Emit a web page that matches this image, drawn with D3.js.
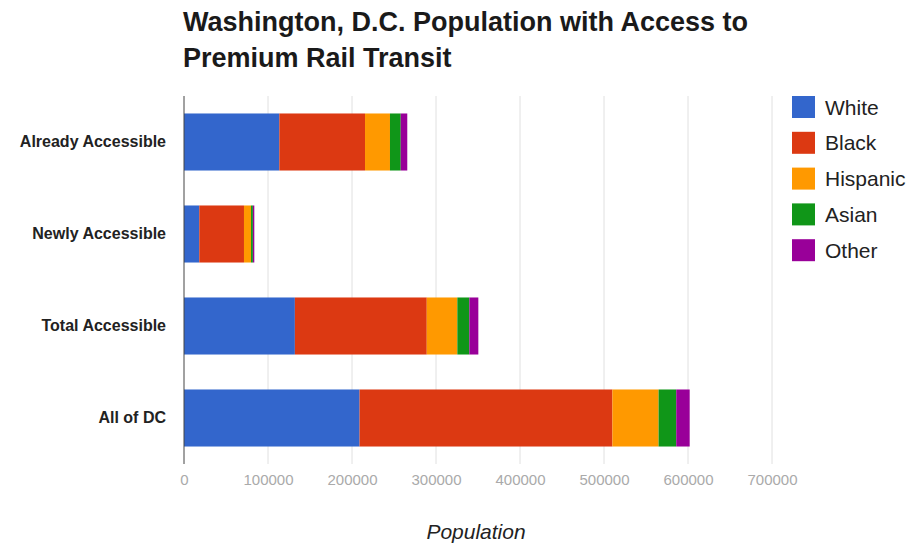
<!DOCTYPE html>
<html>
<head>
<meta charset="utf-8">
<script src="https://cdn.jsdelivr.net/npm/d3@7"></script>
<style>
  html, body { margin: 0; padding: 0; background: #fff; }
  svg { display: block; font-family: "Liberation Sans", Arial, sans-serif; }
</style>
</head>
<body>
<svg id="chart" width="924" height="544"></svg>
<script>
const titleLines = ["Washington, D.C. Population with Access to", "Premium Rail Transit"];
const categories = ["Already Accessible", "Newly Accessible", "Total Accessible", "All of DC"];
const seriesNames = ["White", "Black", "Hispanic", "Asian", "Other"];
const seriesColors = ["#3366cc", "#dc3912", "#ff9900", "#109618", "#990099"];
const white    = [113500, 18200, 132000, 209000];
const black    = [102000, 53200, 157000, 301000];
const hispanic = [29700, 8400, 36400, 55000];
const asian    = [12800, 2200, 14300, 21000];
const other    = [7800, 1700, 10700, 16000];
const xTicks = [0, 100000, 200000, 300000, 400000, 500000, 600000, 700000];
const xTitle = "Population";

const seriesValues = [white, black, hispanic, asian, other];
const rows = categories.map((c, i) => {
  const r = { category: c };
  seriesNames.forEach((s, j) => r[s] = seriesValues[j][i]);
  return r;
});

const svg = d3.select("#chart");
const plotLeft = 184, plotRight = 772, plotTop = 96, plotBottom = 464;

const x = d3.scaleLinear().domain([0, 700000]).range([plotLeft, plotRight]);
const y = d3.scaleBand().domain(categories).range([plotTop, plotBottom])
  .paddingInner(0.38).paddingOuter(0.19);

// Title
svg.append("text")
  .attr("x", 183).attr("y", 31)
  .attr("font-size", 27).attr("font-weight", "bold").attr("fill", "#1a1a1a")
  .selectAll("tspan").data(titleLines).join("tspan")
  .attr("x", 183).attr("dy", (d, i) => i === 0 ? 0 : 36)
  .text(d => d);

// Gridlines
svg.append("g").selectAll("line").data(xTicks.slice(1)).join("line")
  .attr("x1", d => x(d)).attr("x2", d => x(d))
  .attr("y1", plotTop).attr("y2", plotBottom)
  .attr("stroke", "#e0e0e0").attr("stroke-width", 1);

// Bars
const stacked = d3.stack().keys(seriesNames)(rows);
const color = d3.scaleOrdinal().domain(seriesNames).range(seriesColors);

svg.append("g").selectAll("g").data(stacked).join("g")
  .attr("fill", d => color(d.key))
  .selectAll("rect").data(d => d).join("rect")
  .attr("x", d => x(d[0]))
  .attr("width", d => x(d[1]) - x(d[0]))
  .attr("y", d => y(d.data.category))
  .attr("height", y.bandwidth());

// Baseline axis
svg.append("line")
  .attr("x1", x(0)).attr("x2", x(0))
  .attr("y1", plotTop).attr("y2", plotBottom)
  .attr("stroke", "#444").attr("stroke-width", 1);

// X tick labels
const xAxis = d3.axisBottom(x).tickValues(xTicks).tickFormat(d3.format("d")).tickSize(0).tickPadding(0);
const gx = svg.append("g").attr("transform", `translate(0,${plotBottom + 10})`).call(xAxis);
gx.select(".domain").remove();
gx.selectAll("text")
  .attr("font-size", 15).attr("fill", "#aaa")
  .attr("font-family", "Liberation Sans, Arial, sans-serif")
  .attr("dy", "0.71em");

// Y labels
const yAxis = d3.axisLeft(y).tickSize(0).tickPadding(0);
const gy = svg.append("g").attr("transform", `translate(166,0)`).call(yAxis);
gy.select(".domain").remove();
gy.selectAll("text")
  .attr("font-size", 16).attr("font-weight", "bold").attr("fill", "#222")
  .attr("font-family", "Liberation Sans, Arial, sans-serif");

// X axis title
svg.append("text")
  .attr("x", (plotLeft + plotRight) / 2 - 2).attr("y", 539)
  .attr("text-anchor", "middle")
  .attr("font-size", 21).attr("font-style", "italic").attr("fill", "#222")
  .text(xTitle);

// Legend
const legend = svg.append("g").selectAll("g").data(seriesNames).join("g")
  .attr("transform", (d, i) => `translate(792,${107 + i * 35.8})`);
legend.append("rect")
  .attr("x", 0).attr("y", -11).attr("width", 23).attr("height", 22)
  .attr("fill", d => color(d));
legend.append("text")
  .attr("x", 33).attr("y", 0).attr("dy", "0.36em")
  .attr("font-size", 21).attr("fill", "#222")
  .text(d => d);
</script>
</body>
</html>
